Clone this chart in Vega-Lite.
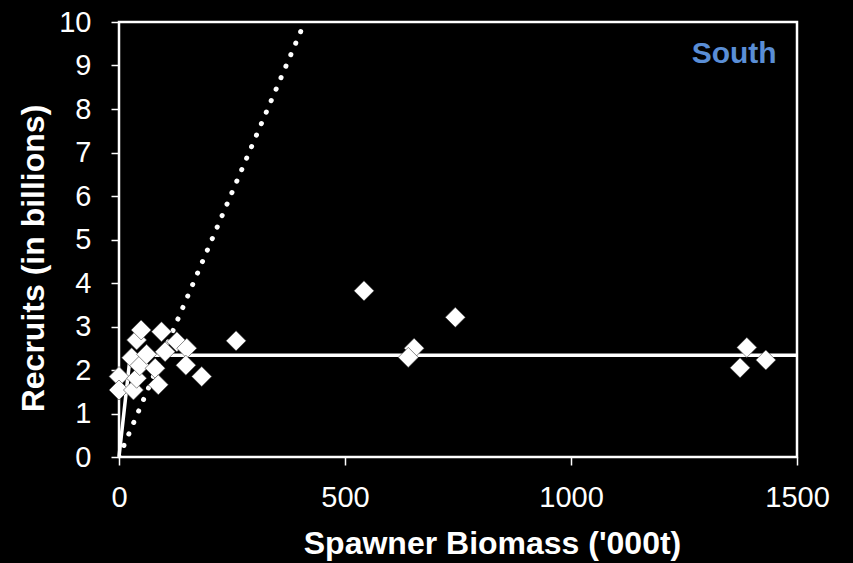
{
  "$schema": "https://vega.github.io/schema/vega-lite/v6.json",
  "width": 678,
  "height": 435,
  "autosize": {"type": "none"},
  "padding": {"left": 119, "top": 22, "right": 56, "bottom": 106},
  "background": "#000000",
  "config": {
    "font": "Liberation Sans",
    "view": {"stroke": "#ffffff", "strokeWidth": 2.5},
    "axis": {
      "domain": false,
      "grid": false,
      "ticks": true,
      "tickColor": "#ffffff",
      "tickWidth": 1.5,
      "tickSize": 8,
      "labelColor": "#ffffff",
      "labelFont": "Liberation Sans",
      "labelFontSize": 29,
      "labelFlush": false,
      "labelOverlap": false,
      "titleColor": "#ffffff",
      "titleFont": "Liberation Sans",
      "titleFontSize": 32,
      "titleFontWeight": "bold"
    }
  },
  "datasets": {
    "recruitment": [
      {"biomass": 0, "recruits": 1.85},
      {"biomass": 0, "recruits": 1.54},
      {"biomass": 32, "recruits": 1.54},
      {"biomass": 39, "recruits": 1.81},
      {"biomass": 28, "recruits": 2.28},
      {"biomass": 46, "recruits": 2.1},
      {"biomass": 39, "recruits": 2.69},
      {"biomass": 49, "recruits": 2.92},
      {"biomass": 61, "recruits": 2.36},
      {"biomass": 80, "recruits": 2.04},
      {"biomass": 87, "recruits": 1.66},
      {"biomass": 94, "recruits": 2.88},
      {"biomass": 102, "recruits": 2.42},
      {"biomass": 128, "recruits": 2.65},
      {"biomass": 150, "recruits": 2.5},
      {"biomass": 148, "recruits": 2.11},
      {"biomass": 183, "recruits": 1.85},
      {"biomass": 259, "recruits": 2.67},
      {"biomass": 542, "recruits": 3.82},
      {"biomass": 744, "recruits": 3.21},
      {"biomass": 653, "recruits": 2.5},
      {"biomass": 640, "recruits": 2.29},
      {"biomass": 1389, "recruits": 2.52},
      {"biomass": 1374, "recruits": 2.05},
      {"biomass": 1431, "recruits": 2.23}
    ],
    "hockeyStick": [
      {"biomass": 0, "recruits": 0},
      {"biomass": 25, "recruits": 2.34},
      {"biomass": 1500, "recruits": 2.34}
    ],
    "replacementLine": [
      {"biomass": 0, "recruits": 0},
      {"biomass": 411, "recruits": 10}
    ],
    "stockLabel": [
      {"biomass": 1455, "recruits": 9.06, "label": "South"}
    ]
  },
  "layer": [
    {
      "data": {"name": "replacementLine"},
      "mark": {"type": "line", "color": "#ffffff", "strokeWidth": 5, "strokeDash": [0.1, 12.4], "strokeCap": "round", "clip": true},
      "encoding": {
        "x": {
          "field": "biomass", "type": "quantitative",
          "scale": {"domain": [0, 1500], "nice": false},
          "axis": {
            "values": [0, 500, 1000, 1500],
            "format": "d",
            "labelPadding": 18,
            "title": "Spawner Biomass ('000t)",
            "titleX": 373,
            "titleY": 96,
            "titleAlign": "center",
            "titleBaseline": "alphabetic"
          }
        },
        "y": {
          "field": "recruits", "type": "quantitative",
          "scale": {"domain": [0, 10], "nice": false},
          "axis": {
            "values": [0, 1, 2, 3, 4, 5, 6, 7, 8, 9, 10],
            "format": "d",
            "labelPadding": 20,
            "title": "Recruits (in billions)",
            "titleAngle": -90,
            "titleX": -76,
            "titleY": 236,
            "titleAlign": "center",
            "titleBaseline": "alphabetic"
          }
        }
      }
    },
    {
      "data": {"name": "hockeyStick"},
      "mark": {"type": "line", "color": "#ffffff", "strokeWidth": 3.5},
      "encoding": {
        "x": {"field": "biomass", "type": "quantitative"},
        "y": {"field": "recruits", "type": "quantitative"}
      }
    },
    {
      "data": {"name": "recruitment"},
      "mark": {"type": "point", "shape": "diamond", "filled": true, "size": 400, "color": "#ffffff", "opacity": 1, "stroke": "#3a3a3a", "strokeWidth": 0.6},
      "encoding": {
        "x": {"field": "biomass", "type": "quantitative"},
        "y": {"field": "recruits", "type": "quantitative"}
      }
    },
    {
      "data": {"name": "stockLabel"},
      "mark": {"type": "text", "align": "right", "baseline": "alphabetic", "font": "Liberation Sans", "fontSize": 30, "fontWeight": "bold", "color": "#5A8ED6"},
      "encoding": {
        "x": {"field": "biomass", "type": "quantitative"},
        "y": {"field": "recruits", "type": "quantitative"},
        "text": {"field": "label"}
      }
    }
  ]
}
